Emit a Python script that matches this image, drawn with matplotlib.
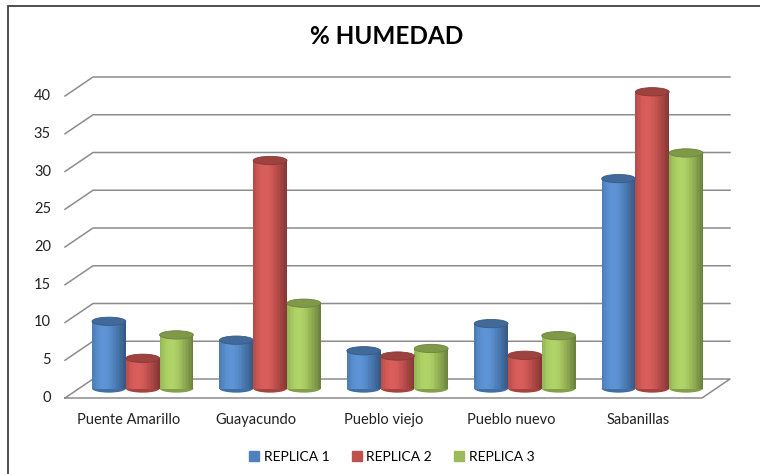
import numpy as np
import matplotlib.pyplot as plt
from matplotlib.patches import Ellipse, Rectangle
from matplotlib.colors import to_rgb

plt.rcParams['font.family'] = ['Lato', 'DejaVu Sans']

sitios = ['Puente Amarillo', 'Guayacundo', 'Pueblo viejo', 'Pueblo nuevo', 'Sabanillas']
replica1 = [8.9, 6.4, 5.0, 8.6, 27.8]
replica2 = [4.0, 30.2, 4.3, 4.4, 39.3]
replica3 = [7.1, 11.3, 5.3, 7.0, 31.2]
series = ['REPLICA 1', 'REPLICA 2', 'REPLICA 3']
colores = ['#4F81BD', '#C0504D', '#9BBB59']
ticks = [0, 5, 10, 15, 20, 25, 30, 35, 40]

W, H = 760, 474
fig = plt.figure(figsize=(W / 100, H / 100), dpi=100)

# ejes en pixeles: frente x 65..702, y 0 en 398, 7.55 px por unidad
px_x = (702 - 65) / 5.0
px_y = 7.55
dx = 28 / px_x          # profundidad en unidades x
dy = 19 / px_y          # profundidad en unidades y
x_max = 5 + dx
y_max = (398 - 60) / px_y
ax = fig.add_axes([65 / W, (H - 398) / H, (x_max * px_x) / W, (y_max * px_y) / H])
ax.set_xlim(0, x_max)
ax.set_ylim(0, y_max)
ax.axis('off')

# borde del grafico
fig.patches.append(Rectangle((8 / W, -0.1), 1.2, (H - 6) / H + 0.1, transform=fig.transFigure,
                             fill=False, edgecolor='#404040', lw=1.3))

gris = '#8C8C8C'
# piso
ax.plot([0, 5, 5 + dx, dx, 0], [0, 0, dy, dy, 0], color=gris, lw=1.1, clip_on=False)
# rejilla
for t in ticks[1:]:
    ax.plot([0, dx, 5 + dx], [t, t + dy, t + dy], color=gris, lw=1.1, clip_on=False)
for t in ticks:
    ax.text(-14 / px_x, t, str(t), ha='right', va='center', fontsize=10.5, color='#222222')

# cilindros
ancho = 0.265
n_tiras = 24
cap_h = 1.1
for j, (vals, c) in enumerate(zip([replica1, replica2, replica3], colores)):
    base = np.array(to_rgb(c))
    for i, v in enumerate(vals):
        xc = i + 0.5 + dx / 2 + (j - 1) * ancho
        y0 = dy / 2
        edges = np.linspace(xc - ancho / 2, xc + ancho / 2, n_tiras + 1)
        for k in range(n_tiras):
            u = (k + 0.5) / n_tiras * 2 - 1
            luz = np.cos((u + 0.3) * np.pi / 2.4)
            col = np.clip(base * (0.72 + 0.38 * luz) + 0.08 * max(luz - 0.7, 0), 0, 1)
            ax.bar(edges[k], v, width=edges[1] - edges[0], bottom=y0, align='edge',
                   color=col, linewidth=0, zorder=3 + i * 0.1)
        # base inferior
        ax.add_patch(Ellipse((xc, y0), ancho, cap_h, facecolor=base * 0.85, edgecolor='none',
                             zorder=2.9 + i * 0.1))
        # tapa superior
        ax.add_patch(Ellipse((xc, y0 + v), ancho, cap_h, facecolor=base * 0.82,
                             edgecolor=base * 0.7, lw=0.6, zorder=3.05 + i * 0.1))

for i, s in enumerate(sitios):
    ax.text(i + 0.5, -22 / px_y, s, ha='center', va='center', fontsize=10.5, color='#222222')

fig.text(387 / W, 1 - 36 / H, '% HUMEDAD', ha='center', va='center', fontsize=17.5,
         fontweight='bold', color='black')

handles = [Rectangle((0, 0), 1, 1, color=c) for c in colores]
fig.legend(handles, series, loc='center', bbox_to_anchor=(392 / W, 1 - 457 / H), ncol=3,
           frameon=False, fontsize=10, handlelength=0.7, handleheight=0.7,
           handletextpad=0.35, columnspacing=1.6)

fig.savefig('out.png', dpi=100)
